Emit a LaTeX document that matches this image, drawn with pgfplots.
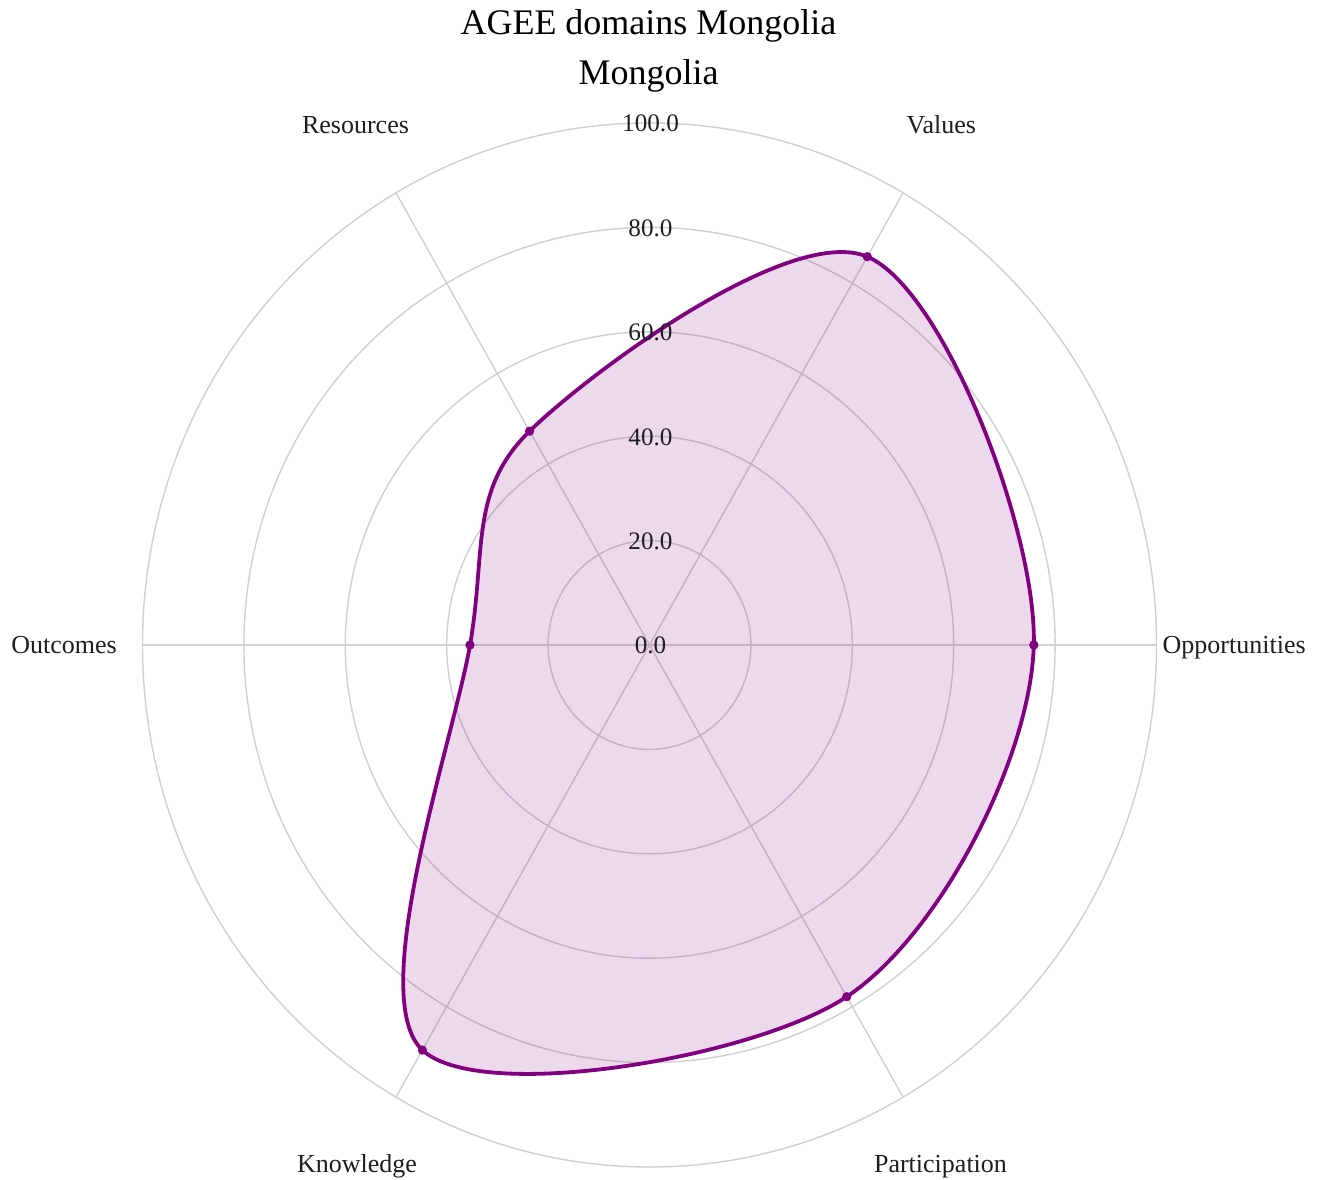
\documentclass[border=0pt]{standalone}
\usepackage{pgfplots}
\pgfplotsset{compat=1.18}
\usetikzlibrary{calc}
\usepackage{fontspec}
\setmainfont{Liberation Serif}
\definecolor{plotpurple}{RGB}{128,0,128}
\definecolor{gridc}{RGB}{208,208,208}
\definecolor{txt}{RGB}{30,30,30}
\begin{document}
\begin{tikzpicture}
\begin{axis}[
  scale only axis,
  width=507pt, height=522pt,
  xmin=-100, xmax=100, ymin=-100, ymax=100,
  axis lines=none, clip=false,
]
% grid circles
\foreach \r in {20,40,60,80,100}{
  \edef\tmp{\noexpand\draw[gridc, line width=0.7pt] (axis cs:0,0) ellipse [x radius=\r, y radius=\r];}\tmp
}
% radial lines
\foreach \a in {0,60,120,180,240,300}{
  \edef\tmp{\noexpand\draw[gridc, line width=0.7pt] (axis cs:0,0) -- (axis cs:{100*cos(\a)},{100*sin(\a)});}\tmp
}
% data
\addplot[data cs=polar, smooth cycle, tension=0.55, draw=plotpurple, line width=1.9pt,
  fill=plotpurple, fill opacity=0.15, draw opacity=1]
  coordinates {(0,75.8) (60,85.9) (120,47.3) (180,35.4) (240,89.6) (300,77.8)};
\addplot[data cs=polar, only marks, mark=*, mark size=2.1pt, plotpurple]
  coordinates {(0,75.8) (60,85.9) (120,47.3) (180,35.4) (240,89.6) (300,77.8)};
\coordinate (O) at (axis cs:0,0);
\end{axis}
% radial tick labels
\foreach \r/\lab in {0/0.0,20/20.0,40/40.0,60/60.0,80/80.0,100/100.0}{
  \node[anchor=base, inner sep=0pt, text=txt, font=\fontsize{12.6}{14}\selectfont]
    at ($(O)+(0.5pt,{\r*2.61pt-4.5pt})$) {\lab};
}
% angular labels
\begin{scope}[every node/.style={inner sep=0pt, text=txt, font=\fontsize{13}{15}\selectfont}]
\node[anchor=base west] at ($(O)+(256.4pt,-4.5pt)$) {Opportunities};
\node[anchor=base east] at ($(O)+(-266.2pt,-4.5pt)$) {Outcomes};
\node[anchor=base] at ($(O)+(145.9pt,255.7pt)$) {Values};
\node[anchor=base] at ($(O)+(-147pt,255.7pt)$) {Resources};
\node[anchor=base] at ($(O)+(-146.2pt,-263.5pt)$) {Knowledge};
\node[anchor=base] at ($(O)+(145.5pt,-263.5pt)$) {Participation};
\end{scope}
% title
\node[anchor=base, inner sep=0pt, text=black, font=\fontsize{18}{22}\selectfont] at ($(O)+(-0.5pt,305pt)$) {AGEE domains Mongolia};
\node[anchor=base, inner sep=0pt, text=black, font=\fontsize{18}{22}\selectfont] at ($(O)+(-0.5pt,280pt)$) {Mongolia};
\pgfresetboundingbox
\path ($(O)+(-324.75pt,-267pt)$) rectangle ($(O)+(335.75pt,322.5pt)$);
\end{tikzpicture}
\end{document}
